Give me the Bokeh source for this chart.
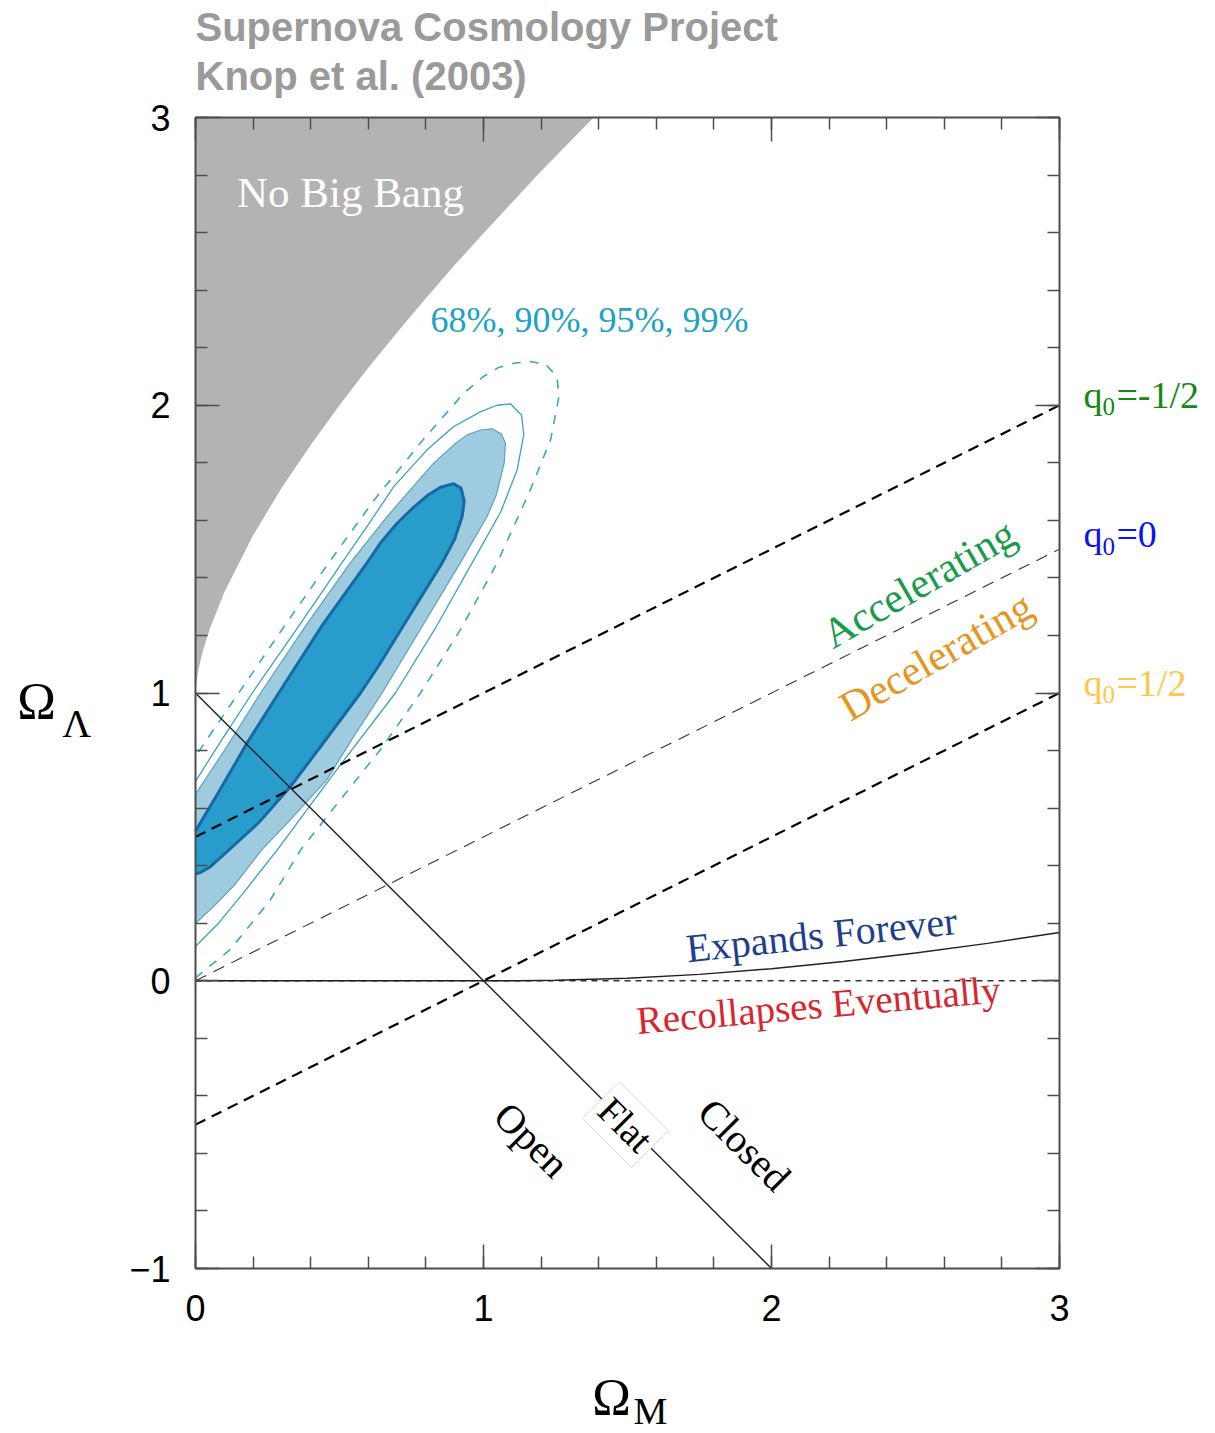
import numpy as np
from bokeh.plotting import figure
from bokeh.models import Range1d, FixedTicker, LinearAxis, Label
from bokeh.embed import file_html
from bokeh.resources import INLINE

# ---------------- data ----------------
# "No Big Bang" boundary (Omega_M, Omega_Lambda)
nbb_om = [0.0, 0.002, 0.01, 0.025, 0.05, 0.1, 0.2, 0.3, 0.4, 0.5, 0.6, 0.7, 0.8, 0.9, 1.0, 1.2, 1.382]
nbb_ol = [1.0, 1.029, 1.081, 1.144, 1.224, 1.350, 1.548, 1.714, 1.862, 2.0, 2.130, 2.253, 2.372, 2.487, 2.598, 2.813, 3.0]

# confidence contours (cut at Omega_M = 0)
c68_om = [0.0, 0.0, 0.08, 0.179, 0.289, 0.44, 0.596, 0.645, 0.70, 0.757, 0.81, 0.851, 0.896, 0.922, 0.933, 0.926, 0.90, 0.857, 0.75, 0.642, 0.573, 0.45, 0.33, 0.22, 0.116, 0.05, 0.017]
c68_ol = [0.372, 0.52, 0.655, 0.826, 1.0, 1.235, 1.453, 1.525, 1.59, 1.645, 1.69, 1.715, 1.727, 1.712, 1.667, 1.614, 1.535, 1.453, 1.28, 1.104, 1.0, 0.835, 0.675, 0.55, 0.455, 0.395, 0.376]

c90_om = [0.0, 0.0, 0.10, 0.226, 0.38, 0.538, 0.666, 0.745, 0.827, 0.90, 0.943, 0.99, 1.030, 1.062, 1.076, 1.072, 1.045, 1.013, 0.920, 0.78, 0.648, 0.55, 0.457, 0.33, 0.23, 0.133, 0.06]
c90_ol = [0.20, 0.649, 0.80, 1.0, 1.23, 1.453, 1.614, 1.705, 1.799, 1.865, 1.897, 1.914, 1.918, 1.900, 1.868, 1.80, 1.69, 1.614, 1.453, 1.22, 1.0, 0.85, 0.70, 0.56, 0.455, 0.33, 0.255]

c95_om = [0.0, 0.08, 0.17, 0.284, 0.48, 0.694, 0.83, 0.961, 1.06, 1.117, 1.140, 1.132, 1.094, 1.047, 0.990, 0.897, 0.804, 0.689, 0.60, 0.509, 0.35, 0.197, 0.08, 0.0]
c95_ol = [0.119, 0.20, 0.31, 0.455, 0.72, 1.0, 1.22, 1.453, 1.63, 1.776, 1.90, 1.965, 2.005, 2.000, 1.978, 1.926, 1.845, 1.718, 1.585, 1.453, 1.22, 1.0, 0.82, 0.693]

c99_om = [0.0, 0.12, 0.26, 0.365, 0.503, 0.642, 0.781, 0.92, 1.048, 1.16, 1.233, 1.262, 1.255, 1.215, 1.163, 1.105, 1.05, 1.00, 0.93, 0.86, 0.79, 0.62, 0.463, 0.30, 0.150, 0.063, 0.0]
c99_ol = [0.01, 0.108, 0.281, 0.455, 0.629, 0.803, 1.0, 1.22, 1.453, 1.70, 1.880, 2.03, 2.10, 2.143, 2.152, 2.146, 2.13, 2.10, 2.04, 1.96, 1.88, 1.67, 1.453, 1.22, 1.0, 0.873, 0.78]

# deceleration-parameter lines  (Omega_L = Omega_M/2 - q0)
q0_om = [0.0, 3.0]
q0_m05_ol = [0.5, 2.0]
q0_0_ol = [0.0, 1.5]
q0_p05_ol = [-0.5, 1.0]

# flat universe line
flat_om = [0.0, 2.0]
flat_ol = [1.0, -1.0]

# expands forever / recollapses boundary
exp_om = [0.0, 1.0, 1.125, 1.25, 1.5, 1.75, 2.0, 2.25, 2.5, 2.75, 3.0]
exp_ol = [0.0, 0.0, 0.0002, 0.0015, 0.0087, 0.0223, 0.0419, 0.0668, 0.0965, 0.130, 0.1675]

zero_om = [0.0, 3.0]
zero_ol = [0.0, 0.0]

x_ticks = [0, 1, 2, 3]
y_ticks = [-1, 0, 1, 2, 3]
y_tick_labels = ["\u22121", "0", "1", "2", "3"]
x_tick_labels = ["0", "1", "2", "3"]

# ---------------- figure ----------------
SERIF = "Liberation Serif"
SANS = "Liberation Sans"

W, H = 1215, 1433
# pixel box of the axes frame inside the canvas
BX0, BX1, BY0, BY1 = 195.0, 1059.0, 117.0, 1268.0
sx = (BX1 - BX0) / 3.0
sy = (BY1 - BY0) / 4.0
xr = Range1d(0 - BX0 / sx, 3 + (W - BX1) / sx)
yr = Range1d(-1 - (H - BY1) / sy, 3 + BY0 / sy)

p = figure(width=W, height=H, output_backend="svg", toolbar_location=None,
           x_range=xr, y_range=yr, min_border=0,
           x_axis_location=None, y_axis_location=None)
p.min_border_left = p.min_border_right = p.min_border_top = p.min_border_bottom = 0
p.grid.visible = False
p.outline_line_color = None
p.background_fill_color = "white"
p.border_fill_color = "white"

xminor = [round(v, 3) for v in np.arange(0, 3.0001, 0.2)]
yminor = [round(v, 3) for v in np.arange(-1, 3.0001, 0.2)]
xt = FixedTicker(ticks=x_ticks, minor_ticks=xminor)
yt = FixedTicker(ticks=y_ticks, minor_ticks=yminor)

AX = "#4d4d4d"

def style(ax, show):
    ax.axis_line_color = AX
    ax.axis_line_width = 2
    ax.major_tick_line_color = AX
    ax.minor_tick_line_color = AX
    ax.major_tick_line_width = 1.5
    ax.minor_tick_line_width = 1.5
    ax.major_tick_in = 24
    ax.major_tick_out = 0
    ax.minor_tick_in = 12
    ax.minor_tick_out = 0
    ax.major_label_text_font = SANS
    ax.major_label_text_font_size = "36px"
    ax.major_label_text_color = "black" if show else None

bottom = LinearAxis(ticker=xt, fixed_location=-1, bounds=(0, 3),
                    major_label_overrides=dict(zip(x_ticks, x_tick_labels)))
style(bottom, True)
bottom.major_label_standoff = 26
left = LinearAxis(ticker=yt, fixed_location=0, bounds=(-1, 3),
                  major_label_overrides=dict(zip(y_ticks, y_tick_labels)))
style(left, True)
left.major_label_standoff = 25
top = LinearAxis(ticker=xt, fixed_location=3, bounds=(0, 3),
                 major_label_overrides={t: "" for t in x_ticks})
style(top, False)
right = LinearAxis(ticker=yt, fixed_location=3, bounds=(-1, 3),
                   major_label_overrides={t: "" for t in y_ticks})
style(right, False)

# No Big Bang region
gx = nbb_om + [0.0]
gy = nbb_ol + [3.0]
p.patch(gx, gy, fill_color="#b3b3b3", line_color=None)

# contours
p.line(c99_om, c99_ol, line_color="#3aa6c4", line_width=1.6, line_dash="9 9")
p.line(c95_om, c95_ol, line_color="#3aa2c0", line_width=1.3)
p.patch(c90_om, c90_ol, fill_color="#9ecbdd", line_color=None)
p.line(c90_om[1:] + c90_om[:1], c90_ol[1:] + c90_ol[:1], line_color="#5aa2c2", line_width=1.2)
p.patch(c68_om, c68_ol, fill_color="#289dcc", line_color=None)
p.line(c68_om[1:] + c68_om[:1], c68_ol[1:] + c68_ol[:1], line_color="#1669a5", line_width=3)

# reference lines
p.line(zero_om, zero_ol, line_color="#333333", line_width=1.3, line_dash="6 5")
p.line(exp_om, exp_ol, line_color="#222222", line_width=1.4)
p.line(q0_om, q0_0_ol, line_color="#333333", line_width=1.1, line_dash="12 8")
p.line(q0_om, q0_m05_ol, line_color="black", line_width=2.2, line_dash="11 7")
p.line(q0_om, q0_p05_ol, line_color="black", line_width=2.2, line_dash="11 7")
p.line(flat_om, flat_ol, line_color="#222222", line_width=1.4)

# axes (drawn at the fixed box locations)
p.add_layout(bottom, "below")
p.add_layout(left, "left")
p.add_layout(top, "above")
p.add_layout(right, "right")

def lab(x, y, text, size, color, font=SERIF, angle=0, align="center", baseline="middle",
        style="normal", xo=0, yo=0, **kw):
    l = Label(x=x, y=y, text=text, text_font=font, text_font_size=size, text_color=color,
              angle=angle, angle_units="deg", text_align=align, text_baseline=baseline,
              text_font_style=style, x_offset=xo, y_offset=yo, **kw)
    p.add_layout(l)
    return l

# in-plot texts
lab(0.538, 2.739, "No Big Bang", "43px", "white")
lab(1.368, 2.297, "68%, 90%, 95%, 99%", "36px", "#1ea2c2")
lab(2.512, 1.380, "Accelerating", "42px", "#1a9a4c", angle=30)
lab(2.572, 1.128, "Decelerating", "42px", "#e5961f", angle=30)
lab(2.174, 0.160, "Expands Forever", "40px", "#1f3f8c", angle=6)
lab(2.163, -0.083, "Recollapses Eventually", "39px", "#d6262f", angle=5)
lab(1.167, -0.553, "Open", "40px", "black", angle=-45)
lab(1.906, -0.570, "Closed", "40px", "black", angle=-45)
lab(1.493, -0.500, "Flat", "38px", "black", angle=-45,
    background_fill_color="white", border_line_color="#d8d8d8", border_line_width=1, padding=5)

# q0 labels at right
for yv, txt, col in [(2.037, "=-1/2", "#138a13"), (1.551, "=0", "#0a14f0"), (1.035, "=1/2", "#fcc84a")]:
    lab(3.083, yv, "q", "38px", col, align="left")
    lab(3.083, yv, "0", "25px", col, align="left", xo=19, yo=-12)
    lab(3.083, yv, txt, "38px", col, align="left", xo=33)

# titles
lab(0.0, 3.316, "Supernova Cosmology Project", "40px", "#9a9a9a", font=SANS, align="left", style="bold")
lab(0.0, 3.143, "Knop et al. (2003)", "40px", "#9a9a9a", font=SANS, align="left", style="bold")

# axis titles
lab(-0.619, 0.970, "\u03a9", "52px", "black", align="left")
lab(-0.463, 0.894, "\u039b", "40px", "black", align="left")
lab(1.378, -1.448, "\u03a9", "52px", "black", align="left")
lab(1.521, -1.4935, "M", "38px", "black", align="left")

open("out.html", "w").write(file_html(p, INLINE))
